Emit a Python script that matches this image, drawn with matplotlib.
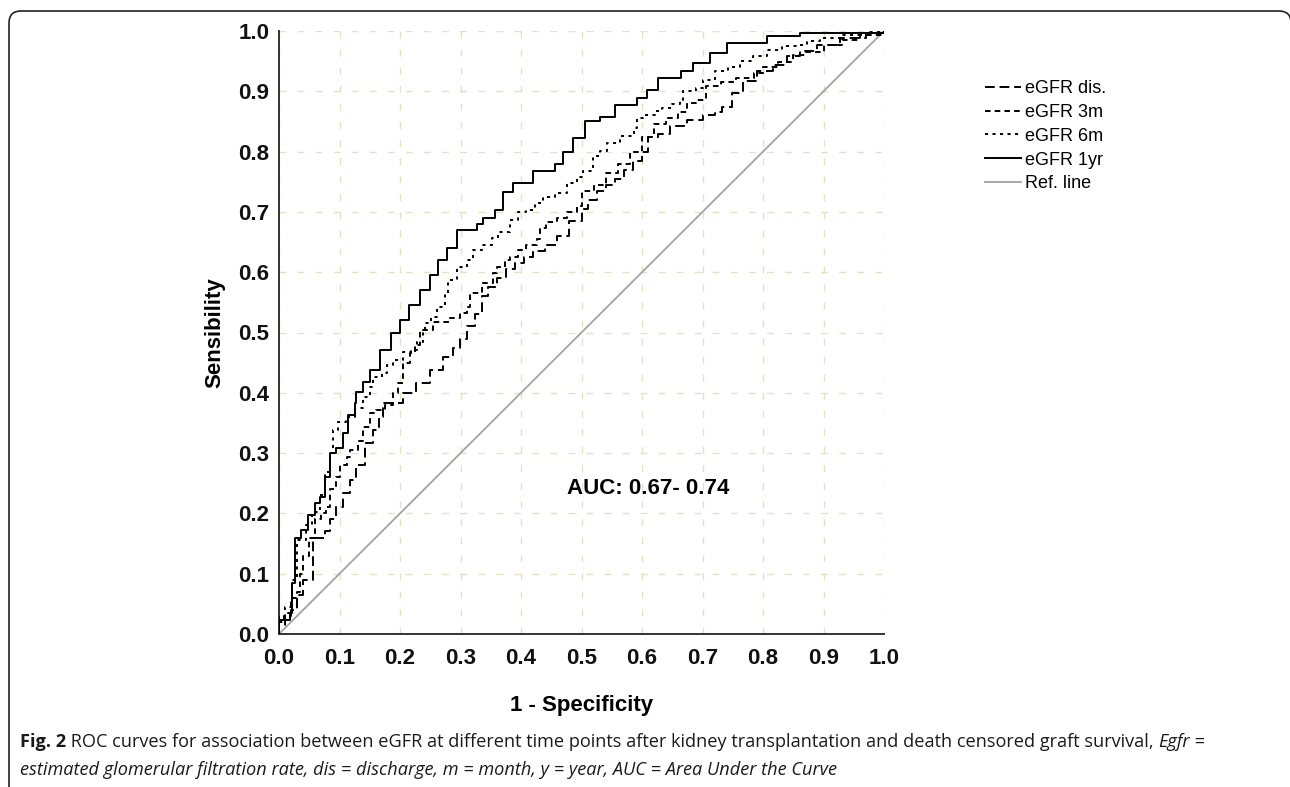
import matplotlib
matplotlib.use("Agg")
import matplotlib.pyplot as plt
import numpy as np
from matplotlib import font_manager
from matplotlib.patches import FancyBboxPatch

# ---------------- data ----------------
fpr_1yr = [0, 0, 0.018, 0.021, 0.026, 0.026, 0.037, 0.048, 0.059, 0.068, 0.076, 0.084, 0.095, 0.106, 0.114,
           0.126, 0.128, 0.139, 0.150, 0.167, 0.185, 0.200, 0.215, 0.233, 0.250, 0.263, 0.277, 0.294, 0.327,
           0.338, 0.357, 0.370, 0.387, 0.420, 0.456, 0.470, 0.486, 0.505, 0.531, 0.556, 0.591, 0.608, 0.627,
           0.665, 0.685, 0.712, 0.740, 0.806, 0.861, 1.0]
tpr_1yr = [0, 0.023, 0.035, 0.085, 0.118, 0.159, 0.172, 0.197, 0.217, 0.227, 0.260, 0.300, 0.308, 0.333, 0.363,
           0.383, 0.402, 0.418, 0.438, 0.471, 0.500, 0.521, 0.545, 0.570, 0.595, 0.620, 0.640, 0.670, 0.680,
           0.690, 0.703, 0.733, 0.748, 0.768, 0.779, 0.800, 0.822, 0.850, 0.858, 0.877, 0.889, 0.902, 0.922,
           0.933, 0.947, 0.963, 0.980, 0.991, 0.997, 1.0]

fpr_6m = [0, 0, 0.010, 0.020, 0.022, 0.029, 0.029, 0.045, 0.054, 0.068, 0.076, 0.084, 0.090, 0.098, 0.110,
          0.125, 0.139, 0.150, 0.156, 0.170, 0.178, 0.189, 0.205, 0.219, 0.228, 0.238, 0.241, 0.252, 0.261,
          0.274, 0.279, 0.294, 0.310, 0.321, 0.335, 0.352, 0.362, 0.382, 0.395, 0.409, 0.423, 0.437, 0.456,
          0.476, 0.492, 0.503, 0.519, 0.531, 0.542, 0.564, 0.586, 0.591, 0.602, 0.621, 0.633, 0.649, 0.663,
          0.668, 0.690, 0.701, 0.721, 0.742, 0.762, 0.783, 0.806, 0.831, 0.856, 0.872, 0.894, 0.927, 0.970, 1.0]
tpr_6m = [0, 0.030, 0.045, 0.050, 0.090, 0.100, 0.156, 0.180, 0.203, 0.230, 0.269, 0.300, 0.338, 0.352, 0.360,
          0.375, 0.393, 0.410, 0.427, 0.433, 0.446, 0.454, 0.468, 0.471, 0.485, 0.499, 0.516, 0.526, 0.543,
          0.565, 0.587, 0.609, 0.620, 0.637, 0.645, 0.657, 0.667, 0.687, 0.700, 0.703, 0.715, 0.725, 0.731,
          0.748, 0.758, 0.767, 0.792, 0.801, 0.814, 0.826, 0.839, 0.856, 0.861, 0.867, 0.872, 0.879, 0.886,
          0.900, 0.905, 0.918, 0.933, 0.941, 0.950, 0.958, 0.969, 0.975, 0.977, 0.983, 0.988, 0.993, 0.998, 1.0]

fpr_3m = [0, 0, 0.008, 0.015, 0.020, 0.030, 0.035, 0.040, 0.050, 0.060, 0.070, 0.078, 0.085, 0.095, 0.100,
          0.112, 0.117, 0.130, 0.139, 0.150, 0.161, 0.175, 0.189, 0.197, 0.205, 0.217, 0.225, 0.233, 0.255,
          0.283, 0.299, 0.310, 0.316, 0.335, 0.354, 0.360, 0.374, 0.382, 0.395, 0.409, 0.426, 0.431, 0.442,
          0.459, 0.476, 0.492, 0.500, 0.520, 0.540, 0.560, 0.580, 0.600, 0.620, 0.640, 0.660, 0.675, 0.690,
          0.705, 0.730, 0.755, 0.785, 0.800, 0.825, 0.850, 0.870, 0.900, 0.930, 0.960, 1.0]
tpr_3m = [0, 0.020, 0.030, 0.035, 0.060, 0.070, 0.100, 0.130, 0.160, 0.190, 0.200, 0.210, 0.240, 0.260, 0.280,
          0.294, 0.305, 0.320, 0.344, 0.366, 0.371, 0.380, 0.399, 0.416, 0.449, 0.466, 0.480, 0.504, 0.518,
          0.524, 0.532, 0.543, 0.565, 0.582, 0.598, 0.609, 0.620, 0.626, 0.637, 0.645, 0.655, 0.673, 0.684,
          0.690, 0.700, 0.710, 0.735, 0.745, 0.765, 0.780, 0.800, 0.825, 0.845, 0.855, 0.865, 0.880, 0.885,
          0.908, 0.915, 0.922, 0.931, 0.940, 0.948, 0.960, 0.966, 0.976, 0.985, 0.993, 1.0]

fpr_dis = [0, 0, 0.010, 0.020, 0.030, 0.040, 0.056, 0.076, 0.085, 0.095, 0.106, 0.117, 0.128, 0.142, 0.156,
           0.165, 0.172, 0.194, 0.205, 0.227, 0.250, 0.271, 0.288, 0.299, 0.310, 0.324, 0.335, 0.345, 0.360,
           0.376, 0.390, 0.405, 0.420, 0.440, 0.460, 0.480, 0.500, 0.511, 0.525, 0.540, 0.555, 0.570, 0.585,
           0.600, 0.610, 0.627, 0.646, 0.674, 0.700, 0.720, 0.732, 0.748, 0.767, 0.790, 0.817, 0.839, 0.861,
           0.889, 0.927, 0.971, 1.0]
tpr_dis = [0, 0.015, 0.030, 0.040, 0.065, 0.090, 0.159, 0.170, 0.190, 0.211, 0.234, 0.255, 0.280, 0.317, 0.338,
           0.360, 0.383, 0.383, 0.399, 0.416, 0.438, 0.460, 0.474, 0.490, 0.510, 0.530, 0.560, 0.575, 0.590,
           0.605, 0.615, 0.625, 0.635, 0.645, 0.660, 0.685, 0.705, 0.720, 0.735, 0.745, 0.755, 0.770, 0.785,
           0.800, 0.825, 0.830, 0.842, 0.853, 0.861, 0.865, 0.874, 0.897, 0.917, 0.934, 0.944, 0.958, 0.967,
           0.977, 0.988, 0.997, 1.0]

ref_x = [0, 1]
ref_y = [0, 1]

series_labels = ["eGFR dis.", "eGFR 3m", "eGFR 6m", "eGFR 1yr", "Ref. line"]
tick_values = [0.0, 0.1, 0.2, 0.3, 0.4, 0.5, 0.6, 0.7, 0.8, 0.9, 1.0]
tick_labels = ["0.0", "0.1", "0.2", "0.3", "0.4", "0.5", "0.6", "0.7", "0.8", "0.9", "1.0"]
x_title = "1 - Specificity"
y_title = "Sensibility"
auc_text = "AUC: 0.67- 0.74"

# ---------------- figure ----------------
plt.rcParams["lines.scale_dashes"] = False
W, H = 1290, 787
fig = plt.figure(figsize=(W / 100, H / 100), dpi=100)
fig.patch.set_facecolor("white")

# outer rounded frame
bg = fig.add_axes([0, 0, 1, 1], zorder=-5)
bg.set_xlim(0, W)
bg.set_ylim(H, 0)
bg.axis("off")
bg.add_patch(FancyBboxPatch((9, 11), 1282, 900, boxstyle="round,pad=0,rounding_size=12",
                            fill=False, ec="#222222", lw=1.2))

L, R, T, B = 279, 884, 31, 634
ax = fig.add_axes([L / W, 1 - B / H, (R - L) / W, (B - T) / H])
ax.set_xlim(0, 1)
ax.set_ylim(0, 1)

FONT = "Liberation Sans"
ax.set_xticks(tick_values)
ax.set_yticks(tick_values)
ax.set_xticklabels(tick_labels, fontsize=16, fontweight="bold", family=FONT)
ax.set_yticklabels(tick_labels, fontsize=16, fontweight="bold", family=FONT)
ax.tick_params(length=0, pad=7, colors="#111111")
ax.tick_params(axis="x", pad=10)

ax.grid(True, color="#e6e1c4", lw=1.0, linestyle=(0, (5, 8)))
ax.set_axisbelow(True)
for s in ["top", "right"]:
    ax.spines[s].set_visible(False)
for s in ["left", "bottom"]:
    ax.spines[s].set_color("#333333")
    ax.spines[s].set_linewidth(1.4)

l_ref, = ax.plot(ref_x, ref_y, color="#a3a3a3", lw=1.3, zorder=2)
l_dis, = ax.plot(fpr_dis, tpr_dis, color="black", lw=1.4, drawstyle="steps-post",
                 linestyle=(0, (7, 3.5)), zorder=3)
l_3m, = ax.plot(fpr_3m, tpr_3m, color="black", lw=1.4, drawstyle="steps-post",
                linestyle=(0, (4, 3)), zorder=3)
l_6m, = ax.plot(fpr_6m, tpr_6m, color="black", lw=1.4, drawstyle="steps-post",
                linestyle=(0, (2.2, 3.2)), zorder=3)
l_1yr, = ax.plot(fpr_1yr, tpr_1yr, color="black", lw=1.4, drawstyle="steps-post", zorder=4)

ax.set_xlabel(x_title, fontsize=16, fontweight="bold", family=FONT, va="center")
ax.set_ylabel(y_title, fontsize=16, fontweight="bold", family=FONT, va="center")
ax.xaxis.set_label_coords(0.5, (B - 705) / (B - T))
ax.yaxis.set_label_coords((215 - L) / (R - L), 0.5)

ax.text(0.476, 0.242, auc_text, fontsize=16, fontweight="bold", family=FONT,
        ha="left", va="center", transform=ax.transAxes)

leg = ax.legend([l_dis, l_3m, l_6m, l_1yr, l_ref], series_labels,
                loc="upper left", bbox_to_anchor=(985 / W, 1 - 80 / H), bbox_transform=fig.transFigure,
                frameon=False, prop={"family": FONT, "size": 13}, handlelength=2.0,
                handletextpad=0.2, labelspacing=0.38, borderpad=0, borderaxespad=0)

# ---------------- caption ----------------
names = {f.name for f in font_manager.fontManager.ttflist}
CAP = "Liberation Sans Narrow" if "Liberation Sans Narrow" in names else "Open Sans"
renderer = fig.canvas.get_renderer()


def adv(txt, size, weight, style):
    t1 = fig.text(0, 0, txt + "x", fontsize=size, fontweight=weight, fontstyle=style, family=CAP)
    t2 = fig.text(0, 0, "x", fontsize=size, fontweight=weight, fontstyle=style, family=CAP)
    w = t1.get_window_extent(renderer).width - t2.get_window_extent(renderer).width
    t1.remove()
    t2.remove()
    return w


line1 = [("Fig. 2", "bold", "normal"),
         (" ROC curves for association between eGFR at different time points after kidney transplantation "
          "and death censored graft survival, ", "normal", "normal"),
         ("Egfr", "normal", "italic"), (" =", "normal", "normal")]
line2 = [("estimated glomerular filtration rate, dis = discharge, m = month, y = year, "
          "AUC = Area Under the Curve", "normal", "italic")]

s0 = 12.0
w0 = sum(adv(t, s0, wt, st) for t, wt, st in line1)
cap_size = s0 * (1201 - 20) / w0


def draw_line(pieces, x_px, base_px):
    x = x_px
    for t, wt, st in pieces:
        fig.text(x / W, 1 - base_px / H, t, fontsize=cap_size, fontweight=wt, fontstyle=st,
                 family=CAP, color="#1a1a1a", va="baseline", ha="left")
        x += adv(t, cap_size, wt, st)


draw_line(line1, 20, 747)
draw_line(line2, 20, 775)

fig.savefig("out.png", dpi=100, facecolor="white")
